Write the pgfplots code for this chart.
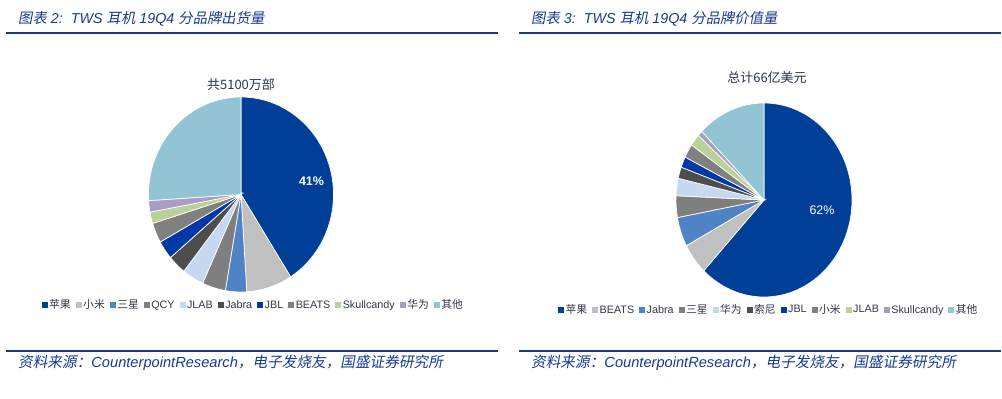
\documentclass[border=0pt]{standalone}
\usepackage{pgfplots}
\pgfplotsset{compat=1.18}
\usepackage{fontspec}
\setmainfont{Liberation Sans}
\newfontfamily\cjk{Noto Sans CJK SC}
\newfontfamily\cjki[FakeSlant=0.18]{Noto Sans CJK SC}
\definecolor{c1}{RGB}{0,63,152}
\definecolor{c2}{RGB}{192,192,192}
\definecolor{c3}{RGB}{80,130,198}
\definecolor{c4}{RGB}{127,127,127}
\definecolor{c5}{RGB}{198,217,241}
\definecolor{c6}{RGB}{77,77,77}
\definecolor{c7}{RGB}{0,56,168}
\definecolor{c8}{RGB}{128,128,128}
\definecolor{c9}{RGB}{186,210,150}
\definecolor{c10}{RGB}{170,156,200}
\definecolor{c11}{RGB}{147,196,213}
\definecolor{titleblue}{RGB}{22,58,140}
\definecolor{ruleblue}{RGB}{28,58,125}
\definecolor{legendtext}{RGB}{50,55,70}
\definecolor{pietitle}{RGB}{40,50,75}
\newcommand\slice[3]{%
  \pgfmathsetmacro\aE{90-3.6*\cum}%
  \pgfmathsetmacro\newcum{\cum+#1}\global\let\cum\newcum
  \pgfmathsetmacro\aS{90-3.6*\cum}%
  \edef\tmp{\noexpand\addplot[fill=#2,draw=white,line width=0.7bp,domain=\aS:\aE,samples=90] ({cos(x)},{sin(x)}) -- (axis cs:0,0) -- cycle;}\tmp
  \addlegendentry{#3}}
\pgfplotsset{pie axis/.style={hide axis, scale only axis, xmin=-1,xmax=1,ymin=-1,ymax=1, clip=false,
  anchor=origin, legend columns=-1,
  legend image code/.code={\fill[##1,draw=none] (0bp,-2.5bp) rectangle (6bp,3.5bp);},
  legend style={draw=none, fill=none, anchor=center, font=\fontsize{10.8}{12}\selectfont, text=legendtext,
    inner sep=0pt, nodes={inner xsep=1.5bp, inner ysep=1bp},
    /tikz/every even column/.append style={column sep=3.5bp}}}}
\begin{document}
\begin{tikzpicture}[x=1bp,y=1bp]
\path[use as bounding box] (0,0) rectangle (1002,398);
% headers and footers
\node[anchor=base west, inner sep=0, text=titleblue, font=\fontsize{14.4}{17}\selectfont] at (18,375)
  {{\cjki 图表}\textit{ 2:\ \ TWS }{\cjki 耳机}\textit{ 19Q4 }{\cjki 分品牌出货量}};
\node[anchor=base west, inner sep=0, text=titleblue, font=\fontsize{14.4}{17}\selectfont] at (531,375)
  {{\cjki 图表}\textit{ 3:\ \ TWS }{\cjki 耳机}\textit{ 19Q4 }{\cjki 分品牌价值量}};
\draw[ruleblue, line width=1.3bp] (6,365) -- (497.5,365);
\draw[ruleblue, line width=1.3bp] (519,365) -- (1001,365);
\draw[ruleblue, line width=1.3bp] (6,47) -- (497.5,47);
\draw[ruleblue, line width=1.3bp] (519,47) -- (1001,47);
\node[anchor=base west, inner sep=0, text=titleblue, font=\fontsize{14.7}{17}\selectfont] at (18,31)
  {{\cjki 资料来源：}\textit{CounterpointResearch}{\cjki ，电子发烧友，国盛证券研究所}};
\node[anchor=base west, inner sep=0, text=titleblue, font=\fontsize{14.7}{17}\selectfont] at (531,31)
  {{\cjki 资料来源：}\textit{CounterpointResearch}{\cjki ，电子发烧友，国盛证券研究所}};
\node[text=pietitle, font=\cjk\fontsize{13}{15}\selectfont, inner sep=0] at (241,313) {共5100万部};
\node[text=pietitle, font=\cjk\fontsize{13}{15}\selectfont, inner sep=0] at (767,320.5) {总计66亿美元};
% left pie: shipments share (%)
\gdef\cum{0}
\begin{axis}[pie axis, at={(241bp,203.5bp)}, width=185bp, height=195bp,
  legend style={at={(0.565,-0.067)}}]
\slice{41}{c1}{\cjk 苹果}
\slice{8}{c2}{\cjk 小米}
\slice{3.7}{c3}{\cjk 三星}
\slice{4.1}{c4}{QCY}
\slice{3.8}{c5}{JLAB}
\slice{3.2}{c6}{Jabra}
\slice{3.1}{c7}{JBL}
\slice{3.3}{c8}{BEATS}
\slice{1.9}{c9}{Skullcandy}
\slice{1.9}{c10}{\cjk 华为}
\slice{26}{c11}{\cjk 其他}
\node[text=white, font=\bfseries\fontsize{12.5}{14}\selectfont] at (axis cs:0.762,0.138) {41\%};
\end{axis}
% right pie: value share (%)
\gdef\cum{0}
\begin{axis}[pie axis, at={(764bp,198bp)}, width=176bp, height=194bp,
  legend style={at={(0.526,-0.067)}}]
\slice{62}{c1}{\cjk 苹果}
\slice{5.2}{c2}{BEATS}
\slice{4.9}{c3}{Jabra}
\slice{3.6}{c4}{\cjk 三星}
\slice{2.9}{c5}{\cjk 华为}
\slice{1.9}{c6}{\cjk 索尼}
\slice{1.8}{c7}{JBL}
\slice{2.3}{c8}{\cjk 小米}
\slice{2.0}{c9}{JLAB}
\slice{0.9}{c10}{Skullcandy}
\slice{12.5}{c11}{\cjk 其他}
\node[text=white, font=\fontsize{12.5}{14}\selectfont] at (axis cs:0.659,-0.103) {62\%};
\end{axis}
\end{tikzpicture}
\end{document}
